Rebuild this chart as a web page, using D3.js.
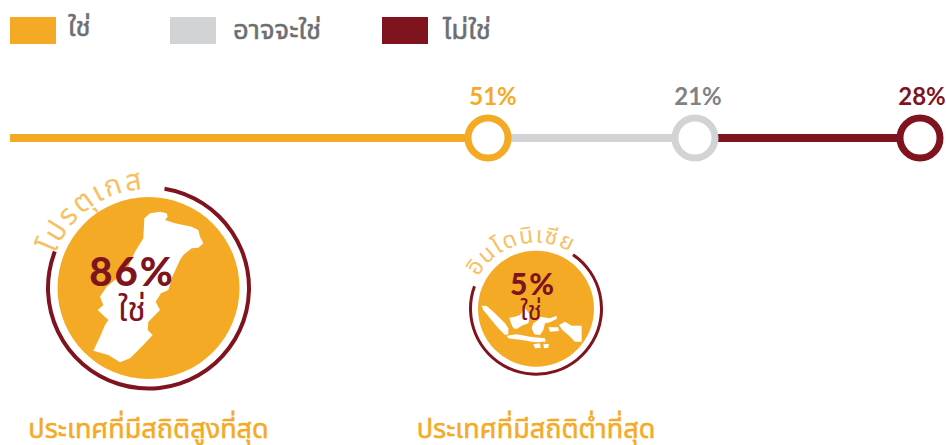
<!DOCTYPE html>
<html>
<head>
<meta charset="utf-8">
<script src="https://cdn.jsdelivr.net/npm/d3@7"></script>
<style>
body { margin: 0; background: #fff; }
svg { display: block; }
text { font-family: Lato, "Noto Sans", "Noto Sans Thai", sans-serif; }
</style>
</head>
<body>
<svg></svg>
<script>
var svgWidth = 946;
var svgHeight = 445;

var categories = ['ใช่', 'อาจจะใช่', 'ไม่ใช่'];
var shares = [51, 21, 28];
var shareLabels = ['51%', '21%', '28%'];
var colors = ['#f4aa24', '#d1d3d4', '#7f141e'];
var labelColors = ['#f4aa24', '#808285', '#7f141e'];

var countries = ['โปรตุเกส', 'อินโดนิเซีย'];
var countryValues = ['86%', '5%'];
var countryTitles = ['ประเทศที่มีสถิติสูงที่สุด', 'ประเทศที่มีสถิติต่ำที่สุด'];

var portugalShape = [[[178,40],[195,25],[225,20],[245,25],[248,35],[240,45],[270,55],[295,60],[320,65],[340,75],[345,95],[355,115],[340,128],[320,130],[295,150],[285,165],[262,215],[250,255],[228,265],[212,290],[225,315],[205,335],[190,350],[188,375],[203,390],[180,415],[155,440],[135,460],[105,472],[70,450],[25,437],[45,395],[60,360],[70,345],[38,315],[55,300],[45,275],[65,245],[90,225],[130,185],[150,140],[175,100]]];
var indonesiaShape = [
	[[20,32],[35,33],[55,50],[75,70],[90,85],[100,100],[100,118],[90,120],[70,100],[45,70],[25,45]],
	[[95,122],[125,118],[165,125],[210,130],[212,140],[180,142],[140,135],[100,130]],
	[[103,68],[120,65],[135,60],[150,40],[165,60],[160,85],[140,92],[125,102],[115,100],[108,85]],
	[[175,85],[190,75],[195,65],[225,70],[245,62],[245,72],[225,82],[210,85],[205,105],[195,120],[178,118],[170,100]],
	[[220,97],[250,97],[252,108],[225,110]],
	[[252,90],[270,80],[290,92],[320,92],[320,140],[300,140],[280,120],[262,105]],
	[[175,148],[195,145],[197,158],[180,160]],
	[[205,148],[222,147],[220,158],[207,160]]
];

var svg = d3.select('svg')
	.attr('width', svgWidth)
	.attr('height', svgHeight);

// legend
var legendX = [10, 170, 382];
var legendTextX = [68, 233, 443];
categories.forEach(function(c, i) {
	svg.append('rect')
		.attr('x', legendX[i])
		.attr('y', 17)
		.attr('width', 46)
		.attr('height', 27)
		.attr('fill', colors[i]);
	svg.append('text')
		.attr('x', legendTextX[i])
		.attr('y', i == 0 ? 36 : 39)
		.attr('font-size', 27.5)
		.attr('font-weight', 400)
		.attr('stroke', '#6d6e71')
		.attr('stroke-width', 0.5)
		.attr('fill', '#6d6e71')
		.text(c);
});

// cumulative line, the original spacing is not quite even so the scale is piecewise
var cumulative = d3.cumsum(shares);
var xScale = d3.scaleLinear()
	.domain([0, cumulative[0], cumulative[1], cumulative[2]])
	.range([10, 488, 695, 920]);

var lineY = 138;
var starts = [0, cumulative[0], cumulative[1]];
shares.forEach(function(s, i) {
	svg.append('line')
		.attr('x1', xScale(starts[i]))
		.attr('x2', xScale(cumulative[i]))
		.attr('y1', lineY)
		.attr('y2', lineY)
		.attr('stroke', colors[i])
		.attr('stroke-width', 8);
});
shares.forEach(function(s, i) {
	svg.append('circle')
		.attr('cx', xScale(cumulative[i]))
		.attr('cy', lineY)
		.attr('r', 20)
		.attr('fill', '#fff')
		.attr('stroke', colors[i])
		.attr('stroke-width', 7);
	svg.append('text')
		.attr('x', xScale(cumulative[i]) + (i == 2 ? 2 : 5 - i * 2))
		.attr('y', 105)
		.attr('text-anchor', 'middle')
		.attr('font-size', 24)
		.attr('font-weight', 700)
		.attr('fill', labelColors[i])
		.text(shareLabels[i]);
});

// country badges
var badges = [
	{cx: 148.5, cy: 288, r: 91, ring: 100.5, ringW: 4, textR: 99, shape: portugalShape, ox: 85, oy: 205, valueX: 132, valueY: 286, valueSize: 40, yesY: 321, yesSize: 34, arcA: 0.16, arcB: -1.2, startA: -1.22, fontSize: 29, spacing: 2.2},
	{cx: 536, cy: 308.7, r: 58, ring: 65.5, ringW: 3, textR: 66, shape: indonesiaShape, ox: 475, oy: 295, valueX: 533, valueY: 295, valueSize: 30, yesY: 320, yesSize: 26, arcA: 0.6, arcB: -1.22, startA: -1.07, fontSize: 23, spacing: 1.5}
];

var outline = d3.line().curve(d3.curveLinearClosed);
var ringArc = d3.arc();

badges.forEach(function(b, i) {
	var g = svg.append('g');
	g.append('circle')
		.attr('cx', b.cx)
		.attr('cy', b.cy)
		.attr('r', b.r)
		.attr('fill', colors[0]);

	var px = d3.scaleLinear().domain([0, 3]).range([b.ox, b.ox + 1]);
	var py = d3.scaleLinear().domain([0, 3]).range([b.oy, b.oy + 1]);
	b.shape.forEach(function(part) {
		g.append('path')
			.attr('d', outline(part.map(function(p) { return [px(p[0]), py(p[1])]; })))
			.attr('fill', '#fff');
	});

	g.append('path')
		.attr('transform', 'translate(' + b.cx + ',' + b.cy + ')')
		.attr('d', ringArc({innerRadius: b.ring - b.ringW / 2, outerRadius: b.ring + b.ringW / 2, startAngle: b.arcA, endAngle: 2 * Math.PI + b.arcB}))
		.attr('fill', colors[2]);

	// curved country name
	var sa = b.startA;
	var ea = 1.6;
	var x0 = b.cx + b.textR * Math.sin(sa);
	var y0 = b.cy - b.textR * Math.cos(sa);
	var x1 = b.cx + b.textR * Math.sin(ea);
	var y1 = b.cy - b.textR * Math.cos(ea);
	svg.append('path')
		.attr('id', 'name' + i)
		.attr('fill', 'none')
		.attr('d', 'M' + x0 + ',' + y0 + 'A' + b.textR + ',' + b.textR + ' 0 0 1 ' + x1 + ',' + y1);
	svg.append('text')
		.attr('font-size', b.fontSize)
		.attr('font-weight', 400)
		.attr('letter-spacing', b.spacing)
		.attr('fill', '#f7c062')
		.append('textPath')
		.attr('href', '#name' + i)
		.text(countries[i]);

	svg.append('text')
		.attr('x', b.valueX)
		.attr('y', b.valueY)
		.attr('text-anchor', 'middle')
		.attr('font-size', b.valueSize)
		.attr('font-weight', 900)
		.attr('letter-spacing', 2)
		.attr('fill', colors[2])
		.text(countryValues[i]);
	svg.append('text')
		.attr('x', b.valueX - (i == 0 ? 0 : 2))
		.attr('y', b.yesY)
		.attr('text-anchor', 'middle')
		.attr('font-size', b.yesSize)
		.attr('fill', colors[2])
		.text(categories[0]);

	svg.append('text')
		.attr('x', i == 0 ? 148.5 : 536)
		.attr('y', 438)
		.attr('text-anchor', 'middle')
		.attr('font-size', 27)
		.attr('font-weight', 400)
		.attr('stroke', colors[0])
		.attr('stroke-width', 0.5)
		.attr('fill', colors[0])
		.text(countryTitles[i]);
});
</script>
</body>
</html>
